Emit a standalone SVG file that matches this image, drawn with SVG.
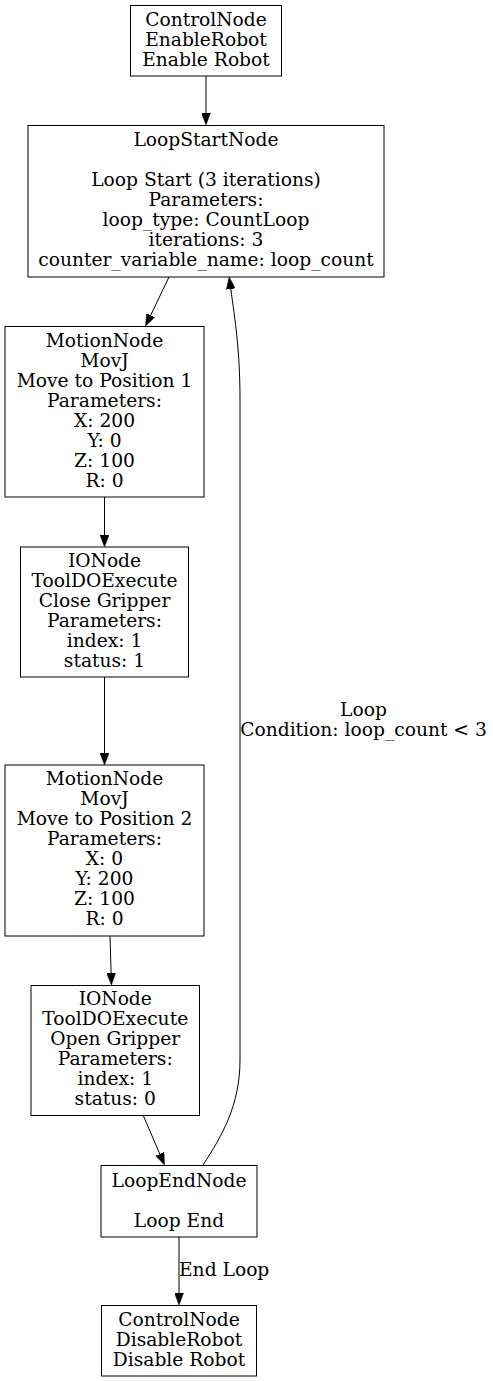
<svg xmlns="http://www.w3.org/2000/svg" width="493" height="1381" viewBox="0 0 493 1381">
<style>
rect{fill:#fff;stroke:#000;stroke-width:1}
text{font-family:"DejaVu Serif",serif;font-size:18.67px;text-anchor:middle;fill:#000}
.e{fill:none;stroke:#000;stroke-width:1;marker-end:url(#ah)}
.lbl{text-anchor:start}
</style>
<defs>
<marker id="ah" markerUnits="userSpaceOnUse" viewBox="0 0 12 9" refX="0" refY="4.5" markerWidth="12" markerHeight="9" orient="auto">
<path d="M0,0 L12,4.5 L0,9 z" fill="#000" stroke="#000" stroke-width="0.5"/>
</marker>
</defs>
<rect x="0" y="0" width="493" height="1381" style="stroke:none"/>
<g id="connectors">
<path class="e" d="M206,76 L206,113"/>
<path class="e" d="M169,277 L150.7,315.2"/>
<path class="e" d="M104.5,497 L104.5,535"/>
<path class="e" d="M104.5,677 L104.5,753"/>
<path class="e" d="M110,936 L111.1,973"/>
<path class="e" d="M143.5,1116 L159.8,1154"/>
<path class="e" d="M179,1237 L179,1293"/>
<text class="lbl" x="179" y="1276">End Loop</text>
<path class="e" d="M203,1165 C222,1136 240,1105 240,1060 L240,400 C240,350 235,320 230.8,289"/>
<text x="363.5" y="716">Loop</text>
<text x="363.5" y="736">Condition: loop_count &lt; 3</text>
</g>
<g id="n1">
<rect x="130.5" y="5.5" width="151" height="70.5"/>
<text x="206" y="26">ControlNode</text>
<text x="206" y="46">EnableRobot</text>
<text x="206" y="66">Enable Robot</text>
</g>
<g id="n2">
<rect x="28" y="125.5" width="356" height="151.5"/>
<text x="206" y="146">LoopStartNode</text>
<text x="206" y="186">Loop Start (3 iterations)</text>
<text x="206" y="206">Parameters:</text>
<text x="206" y="226">loop_type: CountLoop</text>
<text x="206" y="246">iterations: 3</text>
<text x="206" y="266">counter_variable_name: loop_count</text>
</g>
<g id="n3">
<rect x="5" y="326.5" width="199" height="170.5"/>
<text x="104.5" y="346.5">MotionNode</text>
<text x="104.5" y="366.5">MovJ</text>
<text x="104.5" y="386.5">Move to Position 1</text>
<text x="104.5" y="406.5">Parameters:</text>
<text x="104.5" y="426.5">X: 200</text>
<text x="104.5" y="446.5">Y: 0</text>
<text x="104.5" y="466.5">Z: 100</text>
<text x="104.5" y="486.5">R: 0</text>
</g>
<g id="n4">
<rect x="20.5" y="547" width="168" height="130"/>
<text x="104.5" y="566.5">IONode</text>
<text x="104.5" y="586.5">ToolDOExecute</text>
<text x="104.5" y="606.5">Close Gripper</text>
<text x="104.5" y="626.5">Parameters:</text>
<text x="104.5" y="646.5">index: 1</text>
<text x="104.5" y="666.5">status: 1</text>
</g>
<g id="n5">
<rect x="5" y="765" width="199" height="171"/>
<text x="104.5" y="785">MotionNode</text>
<text x="104.5" y="805">MovJ</text>
<text x="104.5" y="825">Move to Position 2</text>
<text x="104.5" y="845">Parameters:</text>
<text x="104.5" y="865">X: 0</text>
<text x="104.5" y="885">Y: 200</text>
<text x="104.5" y="905">Z: 100</text>
<text x="104.5" y="925">R: 0</text>
</g>
<g id="n6">
<rect x="31" y="985.5" width="168.5" height="130"/>
<text x="115.25" y="1005">IONode</text>
<text x="115.25" y="1025">ToolDOExecute</text>
<text x="115.25" y="1045">Open Gripper</text>
<text x="115.25" y="1065">Parameters:</text>
<text x="115.25" y="1085">index: 1</text>
<text x="115.25" y="1105">status: 0</text>
</g>
<g id="n7">
<rect x="101" y="1165.5" width="156" height="71.5"/>
<text x="179" y="1186.5">LoopEndNode</text>
<text x="179" y="1226.5">Loop End</text>
</g>
<g id="n8">
<rect x="101.5" y="1305.5" width="155" height="70.5"/>
<text x="179" y="1326">ControlNode</text>
<text x="179" y="1346">DisableRobot</text>
<text x="179" y="1366">Disable Robot</text>
</g>
</svg>
